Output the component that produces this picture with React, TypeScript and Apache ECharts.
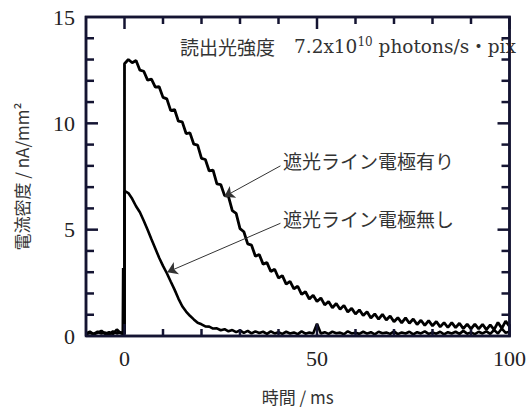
import React, { useEffect, useRef } from "react";
import * as echarts from "echarts";

// ---- data ----
const xTickLabels = [0, 50, 100];
const xMinorTicks = [10, 20, 30, 40, 60, 70, 80, 90];
const yTickLabels = [0, 5, 10, 15];
const yMajorInner = [5, 10];
const yMinorTicks = [1, 2, 3, 4, 6, 7, 8, 9, 11, 12, 13, 14];

const preTimes = [-10, -9, -8, -7, -6, -5, -4, -3, -2, -1, 0];
const decayTimes = [
  0, 1, 2, 3, 4, 5, 6, 7, 8, 9, 10, 11, 12, 13, 14, 15, 16, 17, 18, 19, 20,
  21, 22, 23, 24, 25, 26, 27, 28, 29, 30, 31, 32, 33, 34, 35, 36, 37, 38, 39, 40,
  41, 42, 43, 44, 45, 46, 47, 48, 49, 50, 51, 52, 53, 54, 55, 56, 57, 58, 59, 60,
  61, 62, 63, 64, 65, 66, 67, 68, 69, 70, 71, 72, 73, 74, 75, 76, 77, 78, 79, 80,
  81, 82, 83, 84, 85, 86, 87, 88, 89, 90, 91, 92, 93, 94, 95, 96, 97, 98, 99, 100,
];

// 遮光ライン電極有り
const withPre = [0.12, 0.2, 0.08, 0.15, 0.24, 0.1, 0.17, 0.09, 0.3, 0.13, 0.1];
const withDecay = [
  12.8, 13.0, 12.85, 12.95, 12.5, 12.45, 12.03, 12.08, 11.7, 11.72, 11.22,
  11.15, 10.6, 10.65, 10.1, 10.07, 9.52, 9.55, 9.02, 8.98, 8.35,
  8.3, 7.76, 7.8, 7.15, 7.12, 6.6, 6.56, 5.9, 5.77, 5.05,
  4.9, 4.33, 4.27, 3.75, 3.83, 3.38, 3.45, 3.03, 3.14, 2.73,
  2.84, 2.44, 2.57, 2.22, 2.34, 1.96, 2.08, 1.74, 1.92, 1.62,
  1.79, 1.46, 1.62, 1.33, 1.53, 1.26, 1.44, 1.13, 1.3, 1.03,
  1.23, 0.96, 1.14, 0.85, 1.04, 0.79, 1.02, 0.75, 0.94, 0.67,
  0.86, 0.62, 0.85, 0.6, 0.8, 0.54, 0.74, 0.5, 0.72, 0.48,
  0.68, 0.43, 0.63, 0.4, 0.63, 0.39, 0.6, 0.35, 0.56, 0.33,
  0.56, 0.33, 0.55, 0.3, 0.52, 0.3, 0.64, 0.36, 0.7, 0.45,
];

// 遮光ライン電極無し
const withoutPreTimes = [-10, -9, -8, -7, -6, -5, -4, -3, -2, -1, -0.45, -0.35, -0.25, 0];
const withoutPre = [0.08, 0.14, 0.1, 0.2, 0.12, 0.16, 0.07, 0.22, 0.12, 0.18, 0.1, 3.2, 0.1, 0.1];
const withoutDecay = [
  6.82, 6.72, 6.45, 6.1, 5.82, 5.42, 5.0, 4.55, 4.12, 3.68, 3.3,
  2.95, 2.56, 2.18, 1.76, 1.4, 1.15, 0.95, 0.78, 0.62, 0.55,
  0.45, 0.44, 0.35, 0.36, 0.27, 0.32, 0.22, 0.28, 0.18, 0.26,
  0.15, 0.24, 0.12, 0.22, 0.14, 0.2, 0.1, 0.22, 0.12, 0.18,
  0.1, 0.2, 0.12, 0.17, 0.09, 0.22, 0.11, 0.16, 0.12, 0.58,
  0.12, 0.18, 0.1, 0.2, 0.13, 0.16, 0.08, 0.22, 0.12, 0.15,
  0.1, 0.2, 0.11, 0.18, 0.08, 0.2, 0.13, 0.16, 0.1, 0.22,
  0.09, 0.17, 0.12, 0.2, 0.08, 0.18, 0.12, 0.22, 0.1, 0.16,
  0.11, 0.2, 0.08, 0.18, 0.12, 0.2, 0.1, 0.24, 0.11, 0.17,
  0.09, 0.2, 0.12, 0.22, 0.1, 0.28, 0.12, 0.35, 0.15, 0.2,
];

// arrows: [tail, head] in data units (ms, nA/mm2)
const arrowWith = [[40.5, 8.0], [25.9, 6.55]];
const arrowWithout = [[40.5, 5.3], [11.1, 3.0]];

const X_MIN = -10;
const X_MAX = 100;
const Y_MIN = 0;
const Y_MAX = 15;

const FRAME = "#141432";
const serif = "'Liberation Serif', 'Noto Sans CJK JP', serif";
const serifWide = "'DejaVu Serif', 'Noto Sans CJK JP', serif";
const cjk = "'Noto Sans CJK JP', 'Liberation Serif', sans-serif";

function pairs(xs: number[], ys: number[]) {
  return xs.map((x, i) => [x, ys[i]]);
}

export default function App() {
  const ref = useRef<HTMLDivElement>(null);
  useEffect(() => {
    if (!ref.current) return;
    document.body.style.margin = "0";
    const chart = echarts.init(ref.current, null, { renderer: "svg" });
    const lineSeries = (name: string, data: number[][], width: number) => ({
      name,
      type: "line",
      data,
      showSymbol: false,
      symbol: "none",
      lineStyle: { color: "#000", width },
      itemStyle: { color: "#000" },
      z: 3,
    });
    // [axis (0 = x, 1 = y, 2 = frame), value, tick length]
    const tickData: number[][] = [
      [2, 0, 0],
      ...xTickLabels.map((v) => [0, v, 12]),
      ...xMinorTicks.map((v) => [0, v, 7]),
      ...yMajorInner.map((v) => [1, v, 12]),
      ...yMinorTicks.map((v) => [1, v, 8]),
    ];
    chart.setOption({
      animation: false,
      grid: { left: 86, right: 14, top: 17, bottom: 75, show: true, borderColor: FRAME, borderWidth: 2.5 },
      xAxis: {
        type: "value",
        min: X_MIN,
        max: X_MAX,
        interval: 10,
        splitLine: { show: false },
        axisLine: { show: false },
        axisTick: { show: false },
        name: "時間 / ms",
        nameLocation: "middle",
        nameGap: 52,
        nameTextStyle: { fontFamily: cjk, fontSize: 17, color: "#333" },
        axisLabel: {
          fontFamily: serif,
          fontSize: 22,
          color: "#222",
          margin: 11,
          formatter: (v: number) => (xTickLabels.indexOf(v) >= 0 ? String(v) : ""),
        },
      },
      yAxis: {
        type: "value",
        min: Y_MIN,
        max: Y_MAX,
        interval: 5,
        splitLine: { show: false },
        axisLine: { show: false },
        axisTick: { show: false },
        name: "電流密度 / nA/mm²",
        nameLocation: "middle",
        nameGap: 56,
        nameRotate: 90,
        nameTextStyle: { fontFamily: cjk, fontSize: 17, color: "#333" },
        axisLabel: {
          fontFamily: serif,
          fontSize: 22,
          color: "#222",
          margin: 11,
          formatter: (v: number) => (yTickLabels.indexOf(v) >= 0 ? String(v) : ""),
        },
      },
      series: [
        {
          ...lineSeries("遮光ライン電極有り", [...pairs(preTimes, withPre), ...pairs(decayTimes, withDecay)], 2.8),
          markLine: {
            silent: true,
            symbol: ["none", "arrow"],
            symbolSize: 10,
            label: { show: false },
            lineStyle: { color: "#333", width: 1, type: "solid" },
            data: [
              [{ coord: arrowWith[0] }, { coord: arrowWith[1] }],
              [{ coord: arrowWithout[0] }, { coord: arrowWithout[1] }],
            ],
          },
        },
        lineSeries("遮光ライン電極無し", [...pairs(withoutPreTimes, withoutPre), ...pairs(decayTimes, withoutDecay)], 2.6),
        {
          type: "custom",
          silent: true,
          clip: false,
          z: 5,
          data: tickData,
          renderItem: (_p: any, api: any) => {
            const axis = api.value(0);
            const v = api.value(1);
            const len = api.value(2);
            const st = { stroke: FRAME, lineWidth: 2.5, fill: "none" };
            if (axis === 2) {
              const a = api.coord([X_MIN, Y_MIN]);
              const b = api.coord([X_MAX, Y_MAX]);
              return {
                type: "polyline",
                shape: { points: [[a[0], a[1]], [b[0], a[1]], [b[0], b[1]], [a[0], b[1]], [a[0], a[1]]] },
                style: st,
              };
            }
            if (axis === 0) {
              const b = api.coord([v, Y_MIN]);
              const t = api.coord([v, Y_MAX]);
              return {
                type: "group",
                children: [
                  { type: "line", shape: { x1: b[0], y1: b[1], x2: b[0], y2: b[1] - len }, style: st },
                  { type: "line", shape: { x1: t[0], y1: t[1], x2: t[0], y2: t[1] + len }, style: st },
                ],
              };
            }
            const l = api.coord([X_MIN, v]);
            const r = api.coord([X_MAX, v]);
            return {
              type: "group",
              children: [
                { type: "line", shape: { x1: l[0], y1: l[1], x2: l[0] + len, y2: l[1] }, style: st },
                { type: "line", shape: { x1: r[0], y1: r[1], x2: r[0] - len, y2: r[1] }, style: st },
              ],
            };
          },
        },
      ],
      graphic: [
        {
          type: "text",
          left: 180,
          top: 36,
          style: {
            text: "{c|読出光強度　}{a|7.2x10}{s|10}{a| photons/s・pix}",
            fill: "#333",
            rich: {
              c: { fontFamily: cjk, fontSize: 19, fill: "#333", verticalAlign: "bottom", lineHeight: 20 },
              a: { fontFamily: serifWide, fontSize: 18.5, fill: "#333", verticalAlign: "bottom", lineHeight: 20 },
              s: { fontFamily: serifWide, fontSize: 12, fill: "#333", verticalAlign: "top", lineHeight: 20 },
            },
          },
        },
        { type: "text", left: 283, top: 151, style: { text: "遮光ライン電極有り", fontFamily: cjk, fontSize: 19, fill: "#333" } },
        { type: "text", left: 283, top: 209, style: { text: "遮光ライン電極無し", fontFamily: cjk, fontSize: 19, fill: "#333" } },
      ],
    } as any);
    return () => chart.dispose();
  }, []);
  return <div ref={ref} style={{ width: 529, height: 411 }} />;
}
